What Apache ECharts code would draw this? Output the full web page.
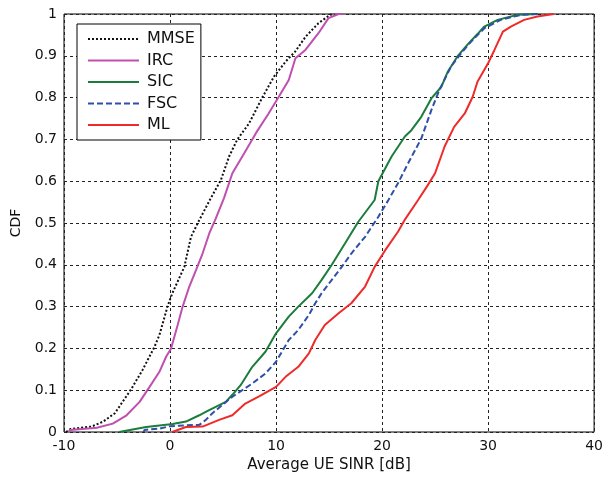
<!DOCTYPE html>
<html><head><meta charset="utf-8">
<script src="https://cdn.jsdelivr.net/npm/echarts@6/dist/echarts.min.js"></script>
<style>html,body{margin:0;padding:0;background:#fff}#c{width:606px;height:478px}</style>
</head><body><div id="c"></div>
<script>
var xTicks = [-10, 0, 10, 20, 30, 40];
var yTicks = [0, 0.1, 0.2, 0.3, 0.4, 0.5, 0.6, 0.7, 0.8, 0.9, 1];
var seriesNames = ['MMSE', 'IRC', 'SIC', 'FSC', 'ML'];
var mmse = [[-9.8,0],[-9.4,0.007],[-7.4,0.013],[-6.3,0.025],[-5.2,0.045],[-3.65,0.103],[-2.6,0.148],[-1.46,0.204],[-1.0,0.232],[-0.24,0.30],[0.22,0.332],[1.35,0.395],[1.98,0.467],[2.76,0.507],[3.86,0.56],[4.8,0.603],[5.57,0.659],[6.35,0.70],[7.45,0.738],[8.7,0.80],[9.8,0.85],[10.9,0.886],[11.8,0.91],[12.8,0.946],[14.0,0.978],[15.1,0.998],[15.5,1]];
var irc = [[-9.6,0],[-9.4,0.005],[-6.9,0.010],[-5.4,0.02],[-4.1,0.04],[-2.87,0.072],[-1.93,0.108],[-1.0,0.144],[-0.37,0.18],[0.1,0.20],[0.72,0.256],[1.19,0.30],[1.82,0.348],[2.45,0.387],[3.07,0.427],[3.7,0.475],[4.32,0.511],[5.1,0.56],[5.88,0.619],[7.0,0.667],[8.1,0.715],[9.3,0.762],[10.26,0.802],[11.2,0.842],[11.83,0.894],[12.77,0.914],[14.0,0.954],[14.95,0.99],[15.9,1.0],[16.3,1]];
var sic = [[-4.8,0],[-4.75,0.004],[-2.25,0.012],[0.25,0.019],[1.5,0.025],[2.76,0.04],[3.5,0.05],[5.26,0.072],[5.88,0.089],[6.66,0.112],[7.76,0.156],[9.0,0.192],[10.0,0.236],[11.2,0.276],[12.1,0.30],[13.4,0.332],[14.3,0.364],[15.26,0.40],[16.5,0.451],[17.76,0.503],[19.3,0.555],[19.65,0.60],[20.9,0.659],[22.15,0.707],[22.77,0.722],[23.7,0.754],[24.65,0.798],[25.6,0.826],[26.2,0.862],[27.15,0.90],[28.1,0.928],[29.0,0.952],[29.65,0.97],[30.9,0.986],[32.8,0.998],[34.7,1]];
var fsc = [[-2.5,0],[-2.4,0.005],[-1.0,0.008],[0,0.014],[1.5,0.016],[2.76,0.017],[3.38,0.029],[4.0,0.045],[5.86,0.084],[7.76,0.116],[9.0,0.14],[10,0.168],[11.2,0.22],[12.1,0.244],[13.1,0.28],[13.7,0.308],[14.3,0.332],[15.26,0.364],[16.2,0.395],[17.1,0.427],[18.4,0.467],[19.65,0.515],[20.6,0.555],[21.5,0.595],[22.46,0.643],[23.7,0.702],[24.65,0.77],[25.4,0.818],[26.5,0.874],[27.45,0.906],[28.4,0.934],[29.65,0.966],[31.2,0.986],[33.1,0.998],[34.9,1]];
var ml = [[0.2,0],[0.25,0.003],[1.5,0.012],[3.07,0.013],[4.63,0.029],[5.88,0.04],[7.1,0.068],[8.4,0.085],[10.0,0.108],[10.9,0.132],[12.1,0.156],[13.1,0.188],[13.7,0.22],[14.6,0.256],[15.9,0.284],[17.1,0.308],[18.4,0.348],[19.3,0.395],[20.3,0.435],[21.5,0.479],[22.2,0.51],[23.4,0.555],[24.3,0.59],[25.0,0.619],[25.9,0.683],[26.8,0.73],[27.8,0.762],[28.55,0.802],[29.0,0.838],[30.0,0.882],[30.6,0.914],[31.4,0.958],[32.15,0.97],[33.4,0.986],[34.65,0.994],[36.2,1]];

var FONT = 'DejaVu Sans';
var chart = echarts.init(document.getElementById('c'), null, {renderer: 'canvas'});
function mk(name, data, color, type, w) {
  return {name: name, type: 'line', data: data, symbol: 'none', showSymbol: false,
    lineStyle: {color: color, type: type, width: w}, itemStyle: {color: color}, animation: false};
}
chart.setOption({
  animation: false,
  backgroundColor: '#fff',
  grid: {left: 64, right: 9, top: 14, bottom: 46, show: true, borderColor: '#000', borderWidth: 1, backgroundColor: '#fff'},
  legend: {
    data: seriesNames, orient: 'vertical', left: 77, top: 24, itemWidth: 51, itemHeight: 10, itemGap: 5.5,
    padding: [7, 6, 7, 10], backgroundColor: '#fff', borderColor: '#000', borderWidth: 1, borderRadius: 0,
    itemStyle: {opacity: 0},
    textStyle: {fontFamily: FONT, fontSize: 16, color: '#111', padding: [0, 0, 0, 3]}
  },
  xAxis: {
    type: 'value', min: -10, max: 40, interval: 10,
    name: 'Average UE SINR [dB]', nameLocation: 'middle', nameGap: 26,
    nameTextStyle: {fontFamily: FONT, fontSize: 15, color: '#111'},
    axisLine: {show: false}, axisTick: {show: false},
    axisLabel: {fontFamily: FONT, fontSize: 14, color: '#111', margin: 7},
    splitLine: {show: true, lineStyle: {color: '#222', type: [3, 3], width: 1}}
  },
  yAxis: {
    type: 'value', min: 0, max: 1, interval: 0.1,
    name: 'CDF', nameLocation: 'middle', nameGap: 39,
    nameTextStyle: {fontFamily: FONT, fontSize: 14, color: '#111'},
    axisLine: {show: false}, axisTick: {show: false},
    axisLabel: {fontFamily: FONT, fontSize: 14, color: '#111', margin: 7, formatter: function (v) { return String(Math.round(v * 10) / 10); }},
    splitLine: {show: true, lineStyle: {color: '#222', type: [3, 3], width: 1}}
  },
  series: [
    mk('MMSE', mmse, '#111', [2, 2], 2),
    mk('IRC', irc, '#bf4fb0', 'solid', 2),
    mk('SIC', sic, '#1a7d3c', 'solid', 2),
    mk('FSC', fsc, '#2f4fa8', [6, 3], 2),
    mk('ML', ml, '#ee2a2a', 'solid', 2)
  ]
});
</script></body></html>
